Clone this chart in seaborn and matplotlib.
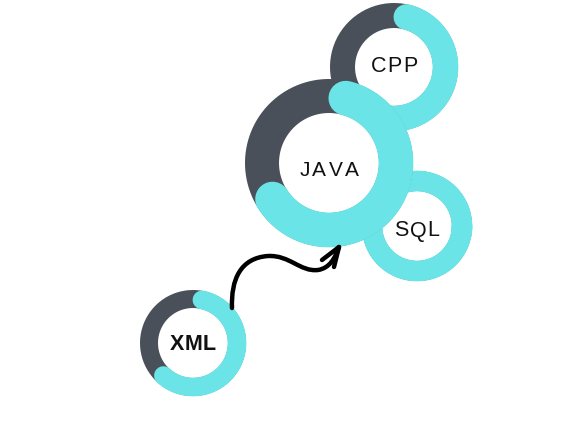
import numpy as np
import pandas as pd
import matplotlib.pyplot as plt
import seaborn as sns
from matplotlib.path import Path
from matplotlib.patches import PathPatch, Circle

# progress values (share of the ring that is filled)
skills = ["CPP", "SQL", "JAVA", "XML"]
progress = [0.65, 1.00, 0.70, 0.65]

# layout, in pixels (x, y from top-left), outer radius, inner radius
centers = [(394, 67), (417, 226), (329, 163), (193, 343)]
outer_r = [64, 55, 84, 53]
inner_r = [39, 35, 50, 35]
label_dy = [0, 5, 7, 1]
letter_gap = [1.5, 1.0, 2.5, 0.0]

GRAY = "#4a5059"
CYAN = "#6ae4e6"
PT = 0.72  # points per pixel at dpi 100

sns.set_theme(style="white")
fig = plt.figure(figsize=(5.77, 4.33), dpi=100)
ax = fig.add_axes([0, 0, 1, 1])
ax.set_xlim(0, 577)
ax.set_ylim(433, 0)
ax.set_aspect("equal")
ax.axis("off")
renderer = fig.canvas.get_renderer()


def arc(cx, cy, r, a0, sweep, n=240):
    # clockwise on screen, angles in degrees (0 = 3 o'clock, 90 = 12 o'clock)
    t = np.radians(np.linspace(a0, a0 - sweep, n))
    return pd.DataFrame({"x": cx + r * np.cos(t), "y": cy - r * np.sin(t)})


def spaced_label(cx, cy, s, gap, **kw):
    # draw letters one by one so the word can be letter-spaced
    items = [ax.text(0, cy, ch, ha="left", va="center", **kw) for ch in s]
    widths = [t.get_window_extent(renderer).width for t in items]
    total = sum(widths) + gap * (len(s) - 1)
    x = cx - total / 2
    for t, wd in zip(items, widths):
        t.set_x(x)
        x += wd + gap


fonts = {"CPP": dict(family="Liberation Sans", size=15.5),
         "SQL": dict(family="Liberation Sans", size=15.5),
         "JAVA": dict(family="Liberation Sans", size=15),
         "XML": dict(family="Liberation Sans", size=15.5, weight="bold")}

for name, p, (cx, cy), ro, ri, dy, gap in zip(skills, progress, centers, outer_r,
                                              inner_r, label_dy, letter_gap):
    w = ro - ri
    rm = (ro + ri) / 2
    lw = w * PT
    ax.add_patch(Circle((cx, cy), ri, color="white", zorder=1))
    ring = arc(cx, cy, rm, 0, 360)
    sns.lineplot(data=ring, x="x", y="y", sort=False, estimator=None, ax=ax,
                 color=GRAY, linewidth=lw, solid_capstyle="butt")
    if p >= 1:
        fill = arc(cx, cy, rm, 0, 370)
        sns.lineplot(data=fill, x="x", y="y", sort=False, estimator=None, ax=ax,
                     color=CYAN, linewidth=lw + 0.5, solid_capstyle="round")
    else:
        cap = np.degrees((w / 2) / rm)
        fill = arc(cx, cy, rm, 90 - cap, p * 360 - 2 * cap)
        sns.lineplot(data=fill, x="x", y="y", sort=False, estimator=None, ax=ax,
                     color=CYAN, linewidth=lw + 0.5, solid_capstyle="round")
    spaced_label(cx, cy + dy, name, gap, color="#111111", **fonts[name])

# hand drawn arrow from XML to JAVA
verts = [(232, 308), (231, 280), (240, 258), (268, 256),
         (290, 255), (300, 272), (318, 270),
         (330, 268), (335, 258), (339, 247)]
codes = [Path.MOVETO] + [Path.CURVE4] * 9
ax.add_patch(PathPatch(Path(verts, codes), fill=False, color="black", lw=3.2,
                       capstyle="round", joinstyle="round", zorder=5))
head = Path([(322, 260), (339, 247), (334, 267)], [Path.MOVETO, Path.LINETO, Path.LINETO])
ax.add_patch(PathPatch(head, fill=False, color="black", lw=3.2,
                       capstyle="round", joinstyle="round", zorder=5))

fig.savefig("out.png", dpi=100)
